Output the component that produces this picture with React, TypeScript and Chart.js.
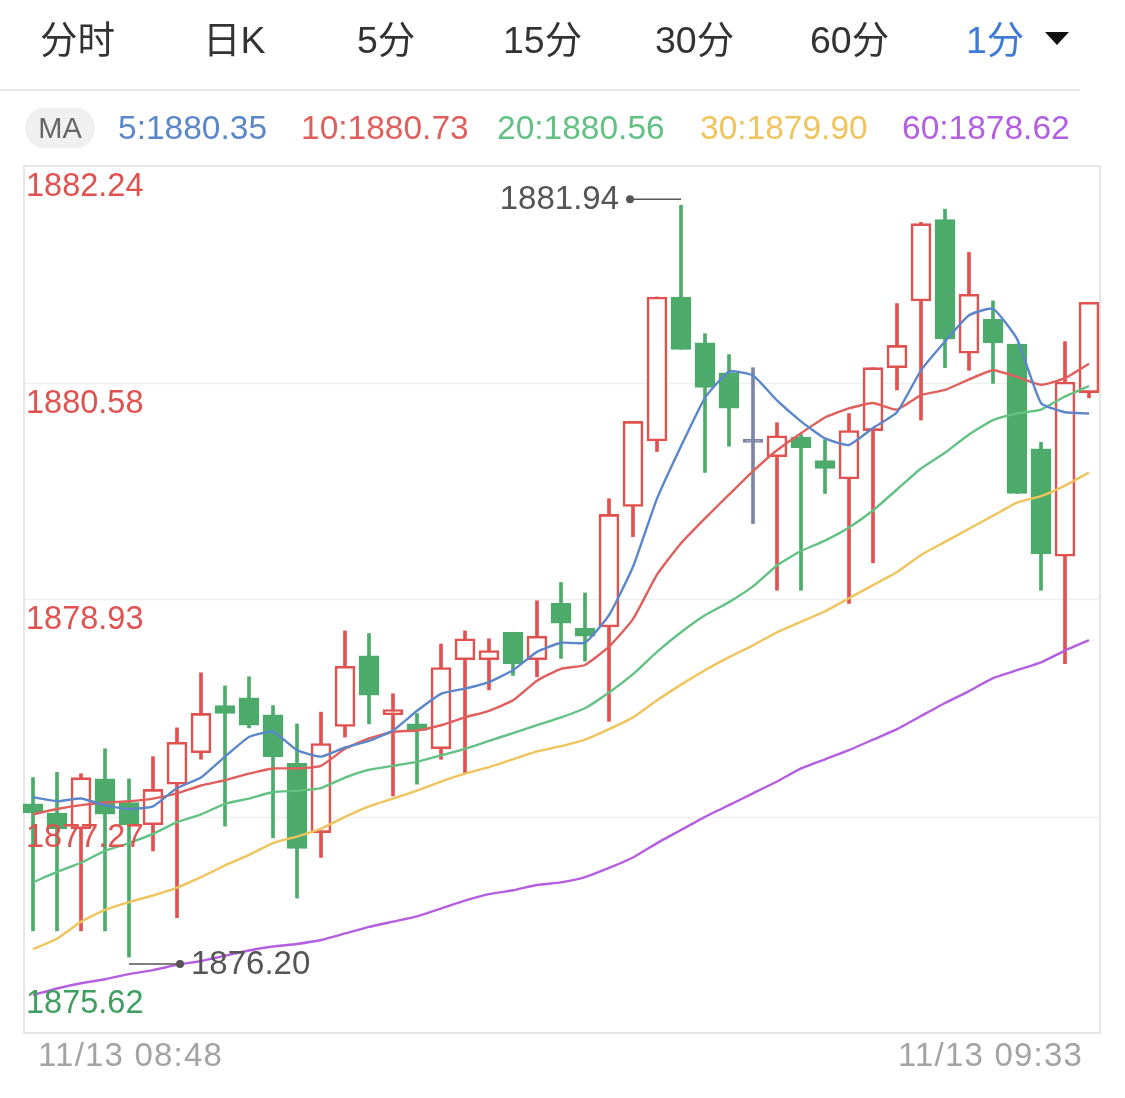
import React, { useEffect, useRef } from "react";
import { Chart, registerables } from "chart.js";

Chart.register(...registerables);

const categories = [
  "08:48", "08:49", "08:50", "08:51", "08:52", "08:53", "08:54", "08:55", "08:56", "08:57",
  "08:58", "08:59", "09:00", "09:01", "09:02", "09:03", "09:04", "09:05", "09:06", "09:07",
  "09:08", "09:09", "09:10", "09:11", "09:12", "09:13", "09:14", "09:15", "09:16", "09:17",
  "09:18", "09:19", "09:20", "09:21", "09:22", "09:23", "09:24", "09:25", "09:26", "09:27",
  "09:28", "09:29", "09:30", "09:31", "09:32",
];

const opens = [
  1877.37, 1877.30, 1877.18, 1877.56, 1877.38, 1877.21, 1877.52, 1877.76, 1878.12, 1878.18,
  1878.05, 1877.68, 1877.15, 1877.96, 1878.50, 1878.05, 1877.98, 1877.79, 1878.47, 1878.47,
  1878.68, 1878.47, 1878.90, 1878.71, 1878.72, 1879.64, 1880.14, 1881.24, 1880.89, 1880.66,
  1880.13, 1880.02, 1880.17, 1879.99, 1879.85, 1880.22, 1880.70, 1881.21, 1881.83, 1880.81,
  1881.07, 1880.88, 1880.08, 1879.26, 1880.51,
];
const highs = [
  1877.57, 1877.61, 1877.60, 1877.79, 1877.56, 1877.73, 1877.95, 1878.37, 1878.27, 1878.34,
  1878.12, 1877.98, 1878.07, 1878.69, 1878.67, 1878.21, 1878.06, 1878.59, 1878.69, 1878.63,
  1878.68, 1878.92, 1879.06, 1878.98, 1879.70, 1880.29, 1881.24, 1881.94, 1880.96, 1880.80,
  1880.70, 1880.28, 1880.19, 1880.15, 1880.35, 1880.70, 1881.19, 1881.81, 1881.91, 1881.58,
  1881.21, 1880.88, 1880.13, 1880.90, 1881.20,
];
const lows = [
  1876.40, 1876.40, 1876.40, 1876.40, 1876.20, 1877.01, 1876.50, 1877.71, 1877.20, 1877.95,
  1877.11, 1876.65, 1876.96, 1877.88, 1877.98, 1877.43, 1877.52, 1877.71, 1877.60, 1878.24,
  1878.35, 1878.34, 1878.48, 1878.46, 1878.00, 1879.41, 1880.06, 1880.84, 1879.90, 1880.10,
  1879.51, 1879.00, 1879.00, 1879.74, 1878.90, 1879.21, 1880.53, 1880.30, 1880.70, 1880.68,
  1880.58, 1879.74, 1879.00, 1878.44, 1880.47,
];
const closes = [
  1877.30, 1877.18, 1877.57, 1877.29, 1877.21, 1877.48, 1877.84, 1878.06, 1878.06, 1877.97,
  1877.73, 1877.03, 1877.83, 1878.42, 1878.20, 1878.09, 1877.93, 1878.41, 1878.63, 1878.54,
  1878.44, 1878.65, 1878.75, 1878.65, 1879.58, 1880.29, 1881.24, 1880.84, 1880.55, 1880.39,
  1880.13, 1880.18, 1880.09, 1879.93, 1880.22, 1880.70, 1880.87, 1881.80, 1880.92, 1881.26,
  1880.89, 1879.74, 1879.28, 1880.59, 1881.20,
];

const ma5 = [
  1877.42, 1877.39, 1877.41, 1877.36, 1877.33, 1877.35, 1877.49, 1877.57, 1877.73, 1877.88,
  1877.92, 1877.78, 1877.73, 1877.80, 1877.85, 1877.93, 1878.08, 1878.21, 1878.25, 1878.30,
  1878.39, 1878.53, 1878.60, 1878.60, 1878.81, 1879.18, 1879.70, 1880.10, 1880.47, 1880.67,
  1880.64, 1880.45, 1880.29, 1880.16, 1880.11, 1880.24, 1880.36, 1880.68, 1880.90, 1881.10,
  1881.15, 1880.92, 1880.43, 1880.36, 1880.35,
];
const ma10 = [
  1877.29, 1877.33, 1877.36, 1877.38, 1877.39, 1877.41, 1877.45, 1877.51, 1877.55, 1877.60,
  1877.64, 1877.64, 1877.66, 1877.79, 1877.87, 1877.92, 1877.93, 1877.97, 1878.03, 1878.08,
  1878.16, 1878.31, 1878.40, 1878.43, 1878.57, 1878.78, 1879.12, 1879.36, 1879.55, 1879.73,
  1879.91, 1880.07, 1880.20, 1880.32, 1880.39, 1880.43, 1880.38, 1880.49, 1880.53, 1880.61,
  1880.68, 1880.63, 1880.57, 1880.62, 1880.73,
];
const ma20 = [
  1876.77, 1876.85, 1876.92, 1877.01, 1877.07, 1877.14, 1877.23, 1877.29, 1877.37, 1877.41,
  1877.46, 1877.47, 1877.49, 1877.57, 1877.63, 1877.66, 1877.69, 1877.74, 1877.79, 1877.85,
  1877.91, 1877.97, 1878.03, 1878.10, 1878.22, 1878.36, 1878.53, 1878.68, 1878.81, 1878.91,
  1879.03, 1879.19, 1879.30, 1879.38, 1879.48, 1879.61, 1879.77, 1879.93, 1880.05, 1880.19,
  1880.30, 1880.35, 1880.38, 1880.48, 1880.56,
];
const ma30 = [
  1876.26, 1876.34, 1876.47, 1876.56, 1876.62, 1876.67, 1876.73, 1876.81, 1876.90, 1876.98,
  1877.07, 1877.12, 1877.18, 1877.27, 1877.35, 1877.41, 1877.47, 1877.54, 1877.60, 1877.65,
  1877.71, 1877.77, 1877.81, 1877.86, 1877.94, 1878.03, 1878.16, 1878.28, 1878.39, 1878.49,
  1878.58, 1878.68, 1878.76, 1878.84, 1878.94, 1879.04, 1879.14, 1879.27, 1879.37, 1879.47,
  1879.57, 1879.67, 1879.72, 1879.80, 1879.90,
];
const ma60 = [
  1875.91, 1875.96, 1876.00, 1876.03, 1876.07, 1876.10, 1876.14, 1876.17, 1876.21, 1876.25,
  1876.28, 1876.30, 1876.33, 1876.38, 1876.43, 1876.47, 1876.51, 1876.57, 1876.63, 1876.68,
  1876.71, 1876.75, 1876.77, 1876.81, 1876.88, 1876.96, 1877.07, 1877.17, 1877.27, 1877.36,
  1877.45, 1877.54, 1877.64, 1877.71, 1877.78, 1877.86, 1877.94, 1878.04, 1878.14, 1878.23,
  1878.33, 1878.39, 1878.45, 1878.54, 1878.62,
];

const maPeriods = [5, 10, 20, 30, 60];
const maColors = ["#5b86c9", "#e05f5c", "#62c183", "#f0c45c", "#b45ee0"];

const yTickValues = [1882.24, 1880.58, 1878.93, 1877.27, 1875.62];
const yTickColors = ["#e0524f", "#e0524f", "#e0524f", "#e0524f", "#3f9f60"];
const xTickLabels = ["11/13 08:48", "11/13 09:33"];
const periodTabs = ["分时", "日K", "5分", "15分", "30分", "60分", "1分"];

const UP = "#e0524f";
const DOWN = "#4caa6b";
const FLAT = "#7c85a4";
const FONT = '"Liberation Sans", "Noto Sans CJK SC", sans-serif';

const W = 1125;
const H = 1098;

export default function App() {
  const canvasRef = useRef<HTMLCanvasElement | null>(null);

  useEffect(() => {
    const canvas = canvasRef.current;
    if (!canvas) return;

    const candleColor = opens.map((o, i) =>
      closes[i] > o ? UP : closes[i] < o ? DOWN : FLAT
    );
    const bodyFill = opens.map((o, i) =>
      closes[i] > o ? "#ffffff" : candleColor[i]
    );

    const framePlugin = {
      id: "frame",
      beforeDatasetsDraw(chart: any) {
        const { ctx, chartArea, scales } = chart;
        const y = scales.y;
        const left = chartArea.left + 3;
        const right = chartArea.right - 1;
        ctx.save();
        ctx.strokeStyle = "#efefef";
        ctx.lineWidth = 1.5;
        for (let i = 1; i < yTickValues.length - 1; i++) {
          const py = Math.round(y.getPixelForValue(yTickValues[i])) + 0.5;
          ctx.beginPath();
          ctx.moveTo(left, py);
          ctx.lineTo(right, py);
          ctx.stroke();
        }
        ctx.strokeStyle = "#e6e6e6";
        ctx.lineWidth = 2;
        ctx.strokeRect(left, chartArea.top, right - left, chartArea.bottom - chartArea.top);
        ctx.restore();
      },
      afterDatasetsDraw(chart: any) {
        const { ctx, chartArea, scales } = chart;
        const x = scales.x;
        const y = scales.y;
        const left = chartArea.left + 3;
        ctx.save();
        ctx.font = `32.5px ${FONT}`;
        ctx.textBaseline = "middle";
        ctx.textAlign = "left";
        yTickValues.forEach((v, i) => {
          const py = y.getPixelForValue(v);
          const last = i === yTickValues.length - 1;
          ctx.fillStyle = yTickColors[i];
          ctx.fillText(v.toFixed(2), left + 2, last ? py - 29 : py + 21);
        });

        // x labels
        ctx.font = `33px ${FONT}`;
        (ctx as any).letterSpacing = "1.2px";
        ctx.fillStyle = "#a3a3a3";
        ctx.textAlign = "left";
        ctx.fillText(xTickLabels[0], left + 14, chartArea.bottom + 24);
        ctx.textAlign = "right";
        ctx.fillText(xTickLabels[1], chartArea.right - 18, chartArea.bottom + 24);
        (ctx as any).letterSpacing = "0px";

        // high / low markers
        ctx.font = `33px ${FONT}`;
        let hi = 0;
        let lo = 0;
        highs.forEach((v, i) => { if (v > highs[hi]) hi = i; });
        lows.forEach((v, i) => { if (v < lows[lo]) lo = i; });
        const mid = (chartArea.left + chartArea.right) / 2;
        const marks = [
          { idx: hi, val: highs[hi], dy: -6 },
          { idx: lo, val: lows[lo], dy: 7 },
        ];
        ctx.strokeStyle = "#555555";
        ctx.fillStyle = "#555555";
        ctx.lineWidth = 1.5;
        marks.forEach((m) => {
          const px = x.getPixelForValue(m.idx);
          const py = y.getPixelForValue(m.val) + m.dy;
          const dir = px > mid ? -1 : 1;
          const dotX = px + dir * 51;
          ctx.beginPath();
          ctx.moveTo(px, py);
          ctx.lineTo(dotX, py);
          ctx.stroke();
          ctx.beginPath();
          ctx.arc(dotX, py, 4, 0, Math.PI * 2);
          ctx.fill();
          ctx.textAlign = dir < 0 ? "right" : "left";
          ctx.fillText(m.val.toFixed(2), dotX + dir * 11, py + 1);
        });
        ctx.restore();
      },
    };

    const maDatasets = [ma5, ma10, ma20, ma30, ma60].map((d, i) => ({
      type: "line" as const,
      label: "MA" + maPeriods[i],
      data: d,
      borderColor: maColors[i],
      backgroundColor: maColors[i],
      borderWidth: 2.4,
      pointRadius: 0,
      tension: 0.15,
      order: i + 1,
    }));

    const chart = new Chart(canvas, {
      type: "bar",
      data: {
        labels: categories,
        datasets: [
          ...maDatasets,
          {
            type: "bar",
            label: "body",
            data: opens.map((o, i) => [o, closes[i]]),
            backgroundColor: bodyFill,
            borderColor: candleColor,
            borderWidth: 2.6,
            borderSkipped: false,
            barThickness: 20,
            grouped: false,
            minBarLength: 3,
            order: 10,
          },
          {
            type: "bar",
            label: "wick",
            data: lows.map((l, i) => [l, highs[i]]),
            backgroundColor: candleColor,
            borderWidth: 0,
            barThickness: 3,
            grouped: false,
            order: 20,
          },
        ] as any,
      },
      options: {
        animation: false,
        responsive: false,
        maintainAspectRatio: false,
        events: [],
        layout: { padding: { left: 21, right: W - 1101, top: 166, bottom: H - 1033 } },
        plugins: { legend: { display: false }, tooltip: { enabled: false } },
        scales: {
          x: { type: "category", display: false, offset: true },
          y: {
            type: "linear",
            display: false,
            min: yTickValues[yTickValues.length - 1],
            max: yTickValues[0],
          },
        },
      },
      plugins: [framePlugin],
    });

    return () => chart.destroy();
  }, []);

  const tabLefts = [40, 203, 357, 503, 655, 810, 966];
  const maLefts = [118, 301, 497, 700, 902];
  const maLast = [ma5, ma10, ma20, ma30, ma60].map((d) => d[d.length - 1]);

  return (
    <div
      style={{
        position: "absolute",
        left: 0,
        top: 0,
        width: W,
        height: H,
        background: "#ffffff",
        fontFamily: FONT,
        overflow: "hidden",
      }}
    >
      <canvas
        ref={canvasRef}
        width={W}
        height={H}
        style={{ position: "absolute", left: 0, top: 0, width: W, height: H }}
      />
      {periodTabs.map((t, i) => (
        <div
          key={t}
          style={{
            position: "absolute",
            left: tabLefts[i],
            top: 18,
            height: 44,
            lineHeight: "44px",
            fontSize: 37.5,
            color: i === periodTabs.length - 1 ? "#3f7ad6" : "#333333",
            whiteSpace: "nowrap",
          }}
        >
          {t}
        </div>
      ))}
      <div
        style={{
          position: "absolute",
          left: 1045,
          top: 32,
          width: 0,
          height: 0,
          borderLeft: "12px solid transparent",
          borderRight: "12px solid transparent",
          borderTop: "13px solid #111111",
        }}
      />
      <div
        style={{
          position: "absolute",
          left: 0,
          top: 89,
          width: 1080,
          height: 2,
          background: "#e8e8e8",
        }}
      />
      <div
        style={{
          position: "absolute",
          left: 25,
          top: 108,
          width: 70,
          height: 40,
          borderRadius: 20,
          background: "#f0f0f0",
          color: "#666666",
          fontSize: 29,
          lineHeight: "40px",
          textAlign: "center",
        }}
      >
        MA
      </div>
      {maLast.map((v, i) => (
        <div
          key={i}
          style={{
            position: "absolute",
            left: maLefts[i],
            top: 108,
            height: 40,
            lineHeight: "40px",
            fontSize: 33.5,
            color: maColors[i],
            whiteSpace: "nowrap",
          }}
        >
          {maPeriods[i]}:{v.toFixed(2)}
        </div>
      ))}
    </div>
  );
}
